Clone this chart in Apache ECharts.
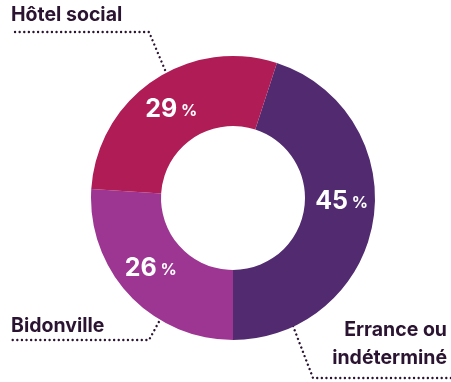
<!DOCTYPE html>
<html>
<head>
<meta charset="utf-8">
<script src="https://cdn.jsdelivr.net/npm/echarts@6/dist/echarts.min.js"></script>
<style>
  html, body { margin: 0; padding: 0; background: #ffffff; }
  #chart { width: 451px; height: 382px; }
</style>
</head>
<body>
<div id="chart"></div>
<script>
// Répartition des situations (en %)
const categories = ['Errance ou\nindéterminé', 'Bidonville', 'Hôtel social'];
const values = [45, 26, 29];
const colors = ['#512a70', '#9d3592', '#b01c56'];

const FONT = 'Inter, "Noto Sans", sans-serif';
const TEXT_DARK = '#2b1431';

// Outer label anchors and leader-line paths (slice edge -> elbow -> end)
const outerLabels = [
  { x: 447, y: 316, align: 'right', pts: [[293, 326], [313, 378], [451, 378]] },
  { x: 11, y: 312, align: 'left', pts: [[161, 318], [149, 340], [12, 340]] },
  { x: 11, y: 1, align: 'left', pts: [[165, 70], [149, 32], [12, 32]] }
];
// Small nudges for the percentage labels inside the ring
const innerNudge = [[0, -14], [-2, -5], [0, 2]];

const data = categories.map((name, i) => ({
  name: name,
  value: values[i],
  itemStyle: { color: colors[i] }
}));

const chart = echarts.init(document.getElementById('chart'), null, { renderer: 'canvas' });
chart.setOption({
  animation: false,
  series: [
    {
      type: 'pie',
      center: [233, 198],
      radius: [72, 142],
      startAngle: 72,
      clockwise: true,
      silent: true,
      data: data,
      label: {
        show: true,
        position: 'inside',
        formatter: p => '{n|' + p.value + '}{p| %}',
        rich: {
          n: { fontFamily: FONT, fontWeight: 700, fontSize: 25, color: '#ffffff' },
          p: { fontFamily: FONT, fontWeight: 700, fontSize: 16, color: '#ffffff', padding: [4, 0, 0, 0] }
        }
      },
      labelLayout: p => ({ dx: innerNudge[p.dataIndex][0], dy: innerNudge[p.dataIndex][1] }),
      labelLine: { show: false }
    },
    {
      type: 'pie',
      center: [233, 198],
      radius: [72, 142],
      startAngle: 72,
      clockwise: true,
      silent: true,
      data: data.map(d => ({ name: d.name, value: d.value, itemStyle: { color: 'rgba(0,0,0,0)' } })),
      label: {
        show: true,
        position: 'outside',
        formatter: '{b}',
        fontFamily: FONT,
        fontWeight: 700,
        fontSize: 19.5,
        lineHeight: 28,
        color: TEXT_DARK,
        overflow: 'none',
        width: 220
      },
      labelLine: {
        show: true,
        lineStyle: { color: '#2b1431', width: 2.4, type: [0.01, 4.6], cap: 'round' }
      },
      labelLayout: p => {
        const o = outerLabels[p.dataIndex];
        return {
          x: o.x,
          y: o.y,
          align: o.align,
          verticalAlign: 'top',
          width: 220,
          labelLinePoints: o.pts
        };
      }
    }
  ]
});
</script>
</body>
</html>
